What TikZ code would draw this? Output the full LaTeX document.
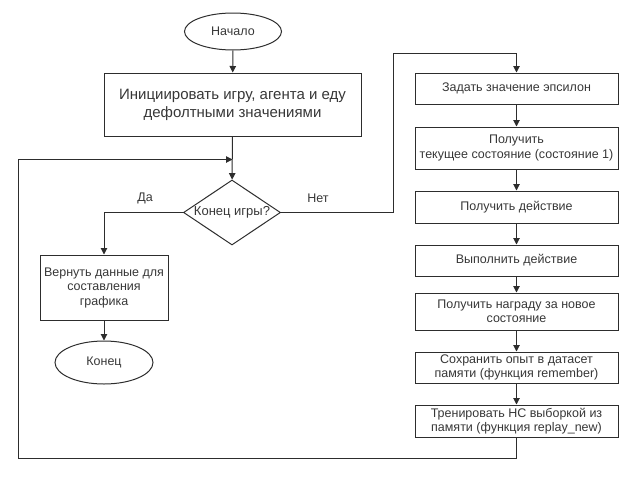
\documentclass[tikz,border=0pt]{standalone}
\usepackage{fontspec}
\setmainfont{Liberation Sans}
\usetikzlibrary{arrows.meta,shapes.geometric,calc}
\definecolor{fc_line}{RGB}{45, 45, 45}
\definecolor{fc_text}{RGB}{55, 55, 55}
\tikzstyle{term}=[ellipse,draw=fc_line,line width=1pt,inner sep=0pt,
  text=fc_text,font=\fontsize{12.5}{14.5}\selectfont]
\tikzstyle{proc}=[rectangle,draw=fc_line,line width=1pt,inner sep=0pt,
  align=center,text=fc_text,font=\fontsize{12.5}{14.5}\selectfont]
\tikzstyle{cond}=[diamond,aspect=1.5,draw=fc_line,line width=1pt,inner sep=0pt,
  text=fc_text,font=\fontsize{13}{15}\selectfont]
\tikzstyle{lbl}=[inner sep=0pt,text=fc_text,font=\fontsize{12.5}{14.5}\selectfont]
\tikzstyle{arr}=[draw=fc_line,line width=1pt,-{Triangle[length=6.5pt,width=6.5pt]}]
\tikzstyle{none}=[]

\begin{document}
\begin{tikzpicture}[x=1pt,y=-1pt]
            \useasboundingbox (0, 0) rectangle (635, 480);
            \node [style=term, minimum width=97pt, minimum height=37pt] (0) at (233, 31.5) {Начало};
            \node [style=proc, minimum width=257pt, minimum height=63pt, font=\fontsize{15}{18}\selectfont] (1) at (232.5, 104.5) {Инициировать игру, агента и еду\\дефолтными значениями};
            \node [style=cond, minimum width=97pt, minimum height=65pt] (2) at (232, 212.5) {Конец игры?};
            \node [style=lbl] (3) at (145, 198) {Да};
            \node [style=lbl] (4) at (318, 198) {Нет};
            \node [style=proc, minimum width=128pt, minimum height=65pt] (5) at (104, 287.5) {Вернуть данные для\\составления\\графика};
            \node [style=term, minimum width=98pt, minimum height=43pt] (6) at (104, 362.5) {Конец};
            \node [style=none] (7) at (393, 53) {};
            \node [style=proc, minimum width=203pt, minimum height=31pt] (8) at (516.5, 88.5) {Задать значение эпсилон};
            \node [style=proc, minimum width=203pt, minimum height=42pt] (9) at (516.5, 148) {Получить\\текущее состояние (состояние 1)};
            \node [style=proc, minimum width=203pt, minimum height=32pt] (10) at (516.5, 207) {Получить действие};
            \node [style=proc, minimum width=203pt, minimum height=31pt] (11) at (516.5, 260.5) {Выполнить действие};
            \node [style=proc, minimum width=203pt, minimum height=37pt] (12) at (516.5, 311.5) {Получить награду за новое\\состояние};
            \node [style=proc, minimum width=203pt, minimum height=31pt] (13) at (516.5, 367.5) {Сохранить опыт в датасет\\памяти (функция remember)};
            \node [style=proc, minimum width=203pt, minimum height=32pt] (14) at (516.5, 421) {Тренировать НС выборкой из\\памяти (функция replay\_new)};
            \node [style=none] (15) at (18, 458) {};
            \node [style=none] (16) at (232.5, 159.5) {};
            \draw [style=arr] (0) to (1);
            \draw [style=arr] (1) to (2);
            \draw [style=arr] (2) -| (5);
            \draw [style=arr] (5) to (6);
            \draw [style=arr] (2) -| (7.center) -| (8);
            \draw [style=arr] (8) to (9);
            \draw [style=arr] (9) to (10);
            \draw [style=arr] (10) to (11);
            \draw [style=arr] (11) to (12);
            \draw [style=arr] (12) to (13);
            \draw [style=arr] (13) to (14);
            \draw [style=arr] (14) |- (15.center) |- (16.center);
    \end{tikzpicture}
\end{document}
